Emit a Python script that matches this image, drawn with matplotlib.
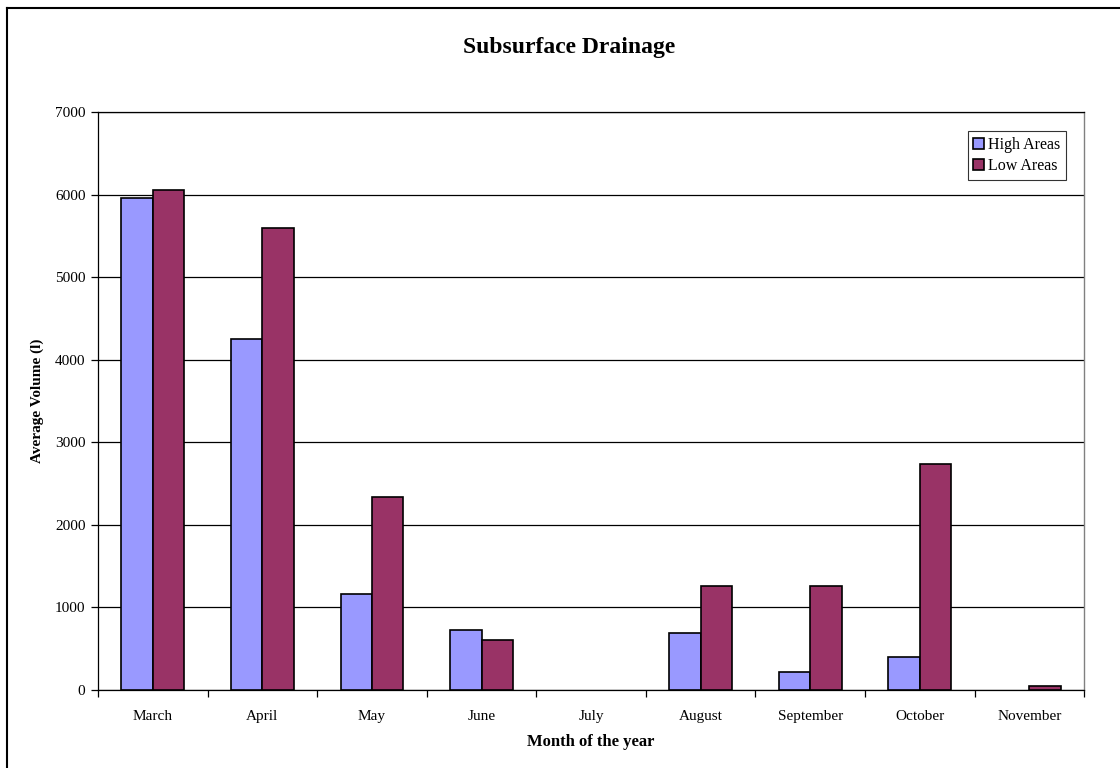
import matplotlib.pyplot as plt
import numpy as np
from matplotlib.lines import Line2D

months = ["March", "April", "May", "June", "July", "August", "September", "October", "November"]
high_areas = [5960, 4250, 1160, 720, 0, 690, 210, 395, 0]
low_areas = [6050, 5600, 2330, 600, 0, 1255, 1250, 2740, 40]
y_ticks = [0, 1000, 2000, 3000, 4000, 5000, 6000, 7000]

plt.rcParams["font.family"] = ["Liberation Serif", "DejaVu Serif"]

fig = plt.figure(figsize=(11.2, 7.68), dpi=100)
ax = fig.add_axes([0.0875, 0.1022, 0.8805, 0.7518])

x = np.arange(len(months))
width = 1 / 3.5
# zero values leave no visible bar in the original
high = np.where(np.array(high_areas) == 0, np.nan, high_areas)
low = np.where(np.array(low_areas) == 0, np.nan, low_areas)
ax.bar(x - width / 2, high, width, color="#9999ff", edgecolor="black",
       linewidth=1.2, label="High Areas", zorder=3)
ax.bar(x + width / 2, low, width, color="#993366", edgecolor="black",
       linewidth=1.2, label="Low Areas", zorder=3)

ax.set_xlim(-0.5, len(months) - 0.5)
ax.set_ylim(0, 7000)
ax.set_yticks(y_ticks)
ax.set_yticklabels([str(v) for v in y_ticks], fontsize=11)
ax.yaxis.grid(True, color="black", linewidth=0.9, zorder=0)

# category labels at centres, tick marks at category boundaries
ax.set_xticks(x)
ax.set_xticklabels(months, fontsize=11)
ax.tick_params(axis="x", which="major", length=0, pad=15)
ax.set_xticks(np.arange(-0.5, len(months)), minor=True)
ax.tick_params(axis="x", which="minor", length=5, width=0.9, direction="out")
ax.tick_params(axis="y", length=5, width=0.9, direction="out", pad=4)

for side in ["left", "bottom", "top"]:
    ax.spines[side].set_color("black")
    ax.spines[side].set_linewidth(0.9)
ax.spines["right"].set_color("#808080")
ax.spines["right"].set_linewidth(1.0)

ax.set_xlabel("Month of the year", fontsize=12, fontweight="bold", labelpad=8)
ax.set_ylabel("Average Volume (l)", fontsize=11, fontweight="bold", labelpad=8)
fig.text(0.508, 0.938, "Subsurface Drainage", ha="center", va="center",
         fontsize=17, fontweight="bold")

leg = ax.legend(loc="upper right", bbox_to_anchor=(0.9817, 0.967), fontsize=11.5,
                frameon=True, fancybox=False, edgecolor="black", borderpad=0.35,
                handlelength=0.7, handleheight=0.7, handletextpad=0.25,
                labelspacing=0.35, borderaxespad=0)
leg.get_frame().set_linewidth(0.8)

# chart-area border (left and top edges visible)
fig.add_artist(Line2D([7 / 1120, 7 / 1120], [0, 1 - 8 / 768], transform=fig.transFigure,
                      color="black", linewidth=1.5))
fig.add_artist(Line2D([7 / 1120, 1], [1 - 8 / 768, 1 - 8 / 768], transform=fig.transFigure,
                      color="black", linewidth=1.5))

fig.savefig("out.png", dpi=100)
